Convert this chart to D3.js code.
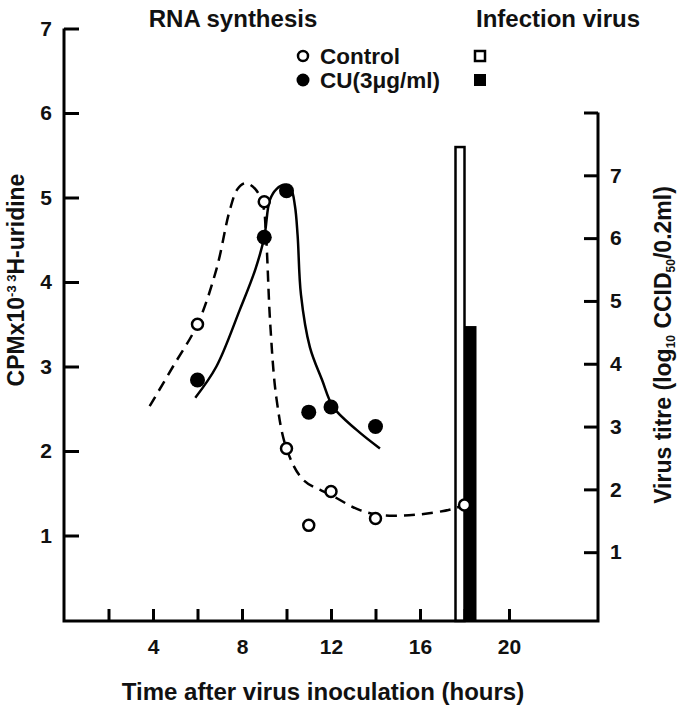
<!DOCTYPE html>
<html><head><meta charset="utf-8">
<script src="https://cdn.jsdelivr.net/npm/d3@7/dist/d3.min.js"></script>
<style>
body{margin:0;background:#fff;}
text{font-family:"Liberation Sans",Arial,sans-serif;font-weight:bold;fill:#111;}
</style></head>
<body><svg id="c" width="680" height="711"></svg>
<script>
// ---- data ----
const hoursTicks = [2,4,6,8,10,12,14,16,18,20];
const hoursLabels = [4,8,12,16,20];
const leftTicks = [1,2,3,4,5,6,7];
const rightTicks = [1,2,3,4,5,6,7,8];
const rightLabels = [1,2,3,4,5,6,7];
// RNA synthesis measurements (hours, CPMx10^-3)
const controlHours = [6,9,10,11,12,14,18];
const controlCPM   = [3.5,4.95,2.03,1.12,1.52,1.2,1.36];
const cuHours = [6,9,10,11,12,14];
const cuCPM   = [2.84,4.53,5.08,2.46,2.52,2.29];
// hand-drawn fitted curves (hours, CPM)
const controlCurveH = [3.85,4.9,6.0,6.85,7.45,7.8,8.15,8.6,8.95,9.08,9.27,9.55,10.0,10.75,12.0,13.3,14.3,15.5,16.6,17.4,18.0];
const controlCurveV = [2.53,3.0,3.5,4.15,4.85,5.1,5.17,5.1,4.9,4.55,3.5,2.62,2.03,1.66,1.48,1.3,1.24,1.24,1.27,1.31,1.36];
const cuCurveH = [5.9,6.85,7.9,8.6,9.0,9.25,9.55,9.9,10.2,10.38,10.5,10.65,11.05,11.6,12.1,13.15,14.2];
const cuCurveV = [2.63,3.0,3.67,4.15,4.53,4.97,5.1,5.15,5.1,4.9,4.55,3.85,3.23,2.84,2.52,2.25,2.03];
// infectious virus titre at 18 h (log10 CCID50/0.2ml)
const virusSeries = ["Control","CU(3μg/ml)"];
const virusTitre = [7.45,4.6];
const virusHour = 18;

const svg = d3.select("#c");
const x = d3.scaleLinear([0,24],[64,598]);
const yL = d3.scaleLinear([0,7],[620,28.5]);
const yR = d3.scaleLinear([0,8],[615,112.5]);
const bottomY = 621;
const SW = 3;

// bars
const barW = [9,12];
svg.append("rect").attr("x", x(virusHour)-barW[0]).attr("y", yR(virusTitre[0]))
  .attr("width", barW[0]).attr("height", bottomY-yR(virusTitre[0]))
  .attr("fill","#fff").attr("stroke","#000").attr("stroke-width",2.5);
svg.append("rect").attr("x", x(virusHour)).attr("y", yR(virusTitre[1]))
  .attr("width", barW[1]).attr("height", bottomY-yR(virusTitre[1]))
  .attr("fill","#000");

// axes frame lines
svg.append("path").attr("d",`M${x(0)},${yL(7)}V${bottomY}H${x(24)}V${yR(8)}`)
  .attr("fill","none").attr("stroke","#000").attr("stroke-width",SW);

// bottom axis
const gx = svg.append("g").attr("transform",`translate(0,${bottomY})`)
  .call(d3.axisBottom(x).tickValues(hoursTicks).tickSize(-12).tickPadding(18)
    .tickFormat(d=>hoursLabels.includes(d)?d:""));
gx.select(".domain").remove();
gx.selectAll(".tick line").attr("stroke","#000").attr("stroke-width",SW);
gx.selectAll(".tick text").attr("font-size",21).attr("fill","#111");

// left axis
const gl = svg.append("g").attr("transform",`translate(${x(0)},0)`)
  .call(d3.axisLeft(yL).tickValues(leftTicks).tickSize(-15).tickPadding(12).tickFormat(d3.format("d")));
gl.select(".domain").remove();
gl.selectAll(".tick line").attr("stroke","#000").attr("stroke-width",SW);
gl.selectAll(".tick text").attr("font-size",21).attr("fill","#111");

// right axis
const gr = svg.append("g").attr("transform",`translate(${x(24)},0)`)
  .call(d3.axisRight(yR).tickValues(rightTicks).tickSize(-14).tickPadding(12)
    .tickFormat(d=>rightLabels.includes(d)?d:""));
gr.select(".domain").remove();
gr.selectAll(".tick line").attr("stroke","#000").attr("stroke-width",SW);
gr.selectAll(".tick text").attr("font-size",21).attr("fill","#111");

// curves
const line = d3.line().x(d=>x(d[0])).y(d=>yL(d[1])).curve(d3.curveCatmullRom.alpha(0.5));
svg.append("path").datum(controlCurveH.map((h,i)=>[h,controlCurveV[i]]))
  .attr("d",line).attr("fill","none").attr("stroke","#000").attr("stroke-width",2.5)
  .attr("stroke-dasharray","11,7");
svg.append("path").datum(cuCurveH.map((h,i)=>[h,cuCurveV[i]]))
  .attr("d",line).attr("fill","none").attr("stroke","#000").attr("stroke-width",2.5);

// points
svg.append("g").selectAll("circle").data(cuHours.map((h,i)=>[h,cuCPM[i]])).join("circle")
  .attr("cx",d=>x(d[0])).attr("cy",d=>yL(d[1])).attr("r",7.5).attr("fill","#000");
svg.append("g").selectAll("circle").data(controlHours.map((h,i)=>[h,controlCPM[i]])).join("circle")
  .attr("cx",d=>x(d[0])).attr("cy",d=>yL(d[1])).attr("r",5.5)
  .attr("fill","#fff").attr("stroke","#000").attr("stroke-width",2.5);

// titles
svg.append("text").attr("x",233).attr("y",27).attr("text-anchor","middle").attr("font-size",24).text("RNA synthesis");
svg.append("text").attr("x",558).attr("y",27).attr("text-anchor","middle").attr("font-size",24).text("Infection virus");

// legend
const leg = svg.append("g");
virusSeries.forEach((s,i)=>{
  const cy = 56 + i*24;
  if(i===0){
    leg.append("circle").attr("cx",303).attr("cy",cy).attr("r",5).attr("fill","#fff").attr("stroke","#000").attr("stroke-width",2.5);
    leg.append("rect").attr("x",475).attr("y",cy-5).attr("width",10).attr("height",10).attr("fill","#fff").attr("stroke","#000").attr("stroke-width",2.5);
  } else {
    leg.append("circle").attr("cx",303).attr("cy",cy).attr("r",6.5).attr("fill","#000");
    leg.append("rect").attr("x",474).attr("y",cy-6).attr("width",12).attr("height",12).attr("fill","#000");
  }
  leg.append("text").attr("x",320).attr("y",cy+8).attr("font-size",22.5).text(s);
});

// x-axis title
svg.append("text").attr("x",323).attr("y",700).attr("text-anchor","middle").attr("font-size",24)
  .text("Time after virus inoculation (hours)");

// left y title
const lt = svg.append("text").attr("transform","translate(24,280) rotate(-90)").attr("text-anchor","middle").attr("font-size",23);
lt.append("tspan").text("CPMx10");
lt.append("tspan").attr("dy","-8").attr("font-size",13).text("-3");
lt.append("tspan").attr("font-size",13).text("    3");
lt.append("tspan").attr("dy","8").text("H-uridine");

// right y title
const rt = svg.append("text").attr("transform","translate(671,345) rotate(-90)").attr("text-anchor","middle").attr("font-size",23);
rt.append("tspan").text("Virus titre (log");
rt.append("tspan").attr("dy","4").attr("font-size",12).text("10");
rt.append("tspan").attr("dy","-4").text(" CCID");
rt.append("tspan").attr("dy","4").attr("font-size",12).text("50");
rt.append("tspan").attr("dy","-4").text("/0.2ml)");
</script></body></html>
